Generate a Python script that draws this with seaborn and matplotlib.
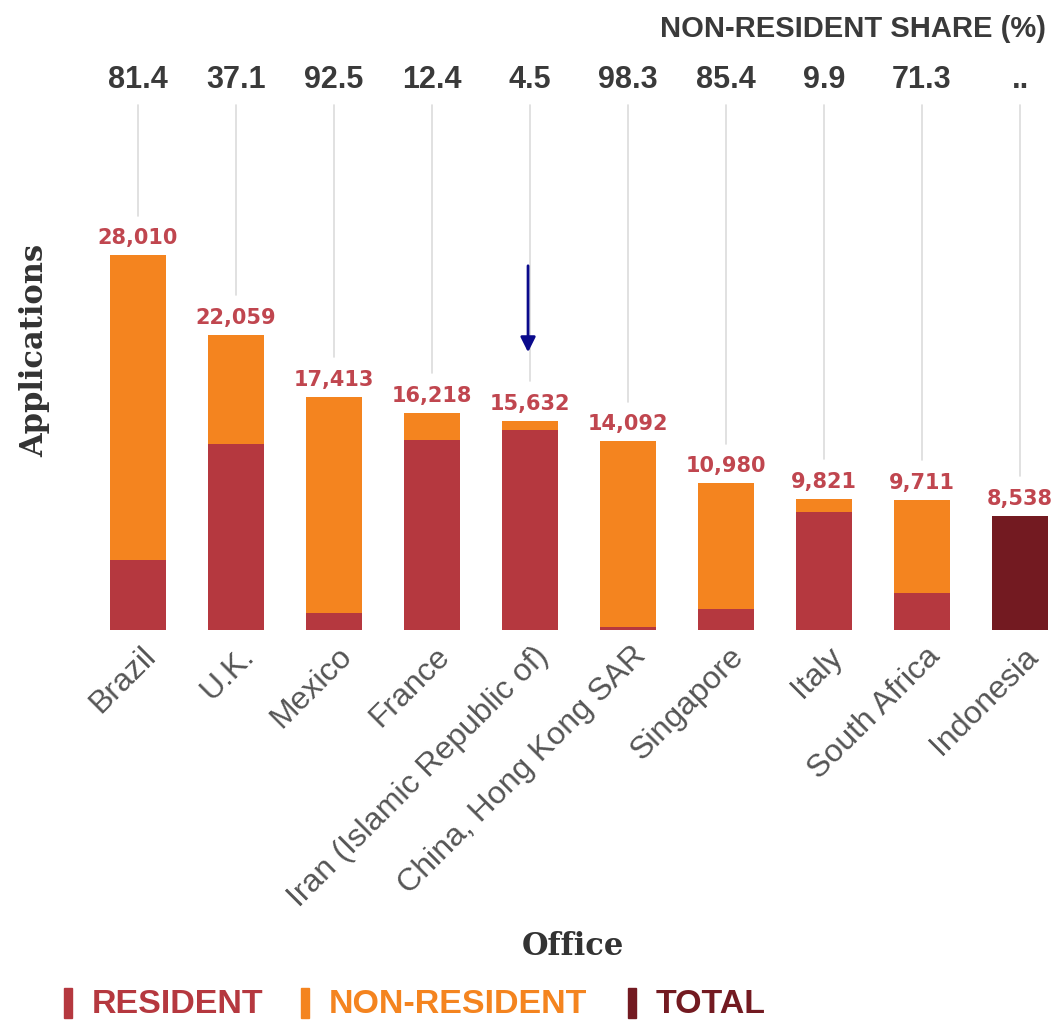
import matplotlib
matplotlib.use('Agg')
import matplotlib.pyplot as plt
import matplotlib.transforms as mtransforms
import seaborn as sns
import pandas as pd
import numpy as np

offices = ['Brazil', 'U.K.', 'Mexico', 'France', 'Iran (Islamic Republic of)',
           'China, Hong Kong SAR', 'Singapore', 'Italy', 'South Africa', 'Indonesia']
totals = [28010, 22059, 17413, 16218, 15632, 14092, 10980, 9821, 9711, 8538]
nonres_share = [81.4, 37.1, 92.5, 12.4, 4.5, 98.3, 85.4, 9.9, 71.3, None]
share_labels = ['81.4', '37.1', '92.5', '12.4', '4.5', '98.3', '85.4', '9.9', '71.3', '..']

RES = '#b5383f'
NONRES = '#f4841f'
TOTAL = '#731a21'
LABEL_RED = '#c0464f'
GREY_TXT = '#3a3a3a'
SANS = ['Liberation Sans', 'DejaVu Sans']

df = pd.DataFrame({'office': offices, 'total': totals, 'share': nonres_share})
# resident part = total minus non-resident share; Indonesia only has the total
df['resident'] = [t * (1 - s / 100) if s is not None else 0 for t, s in zip(totals, nonres_share)]
top_colors = [NONRES if s is not None else TOTAL for s in nonres_share]

sns.set_style('white')
plt.rcParams['font.family'] = SANS

fig = plt.figure(figsize=(10.58, 10.21), dpi=100)
W, H = 1058, 1021
px_per_unit = 375 / 28010
ax_top_px, ax_bot_px = 20, 630
ax = fig.add_axes([89 / W, (H - ax_bot_px) / H, (W - 89) / W, (ax_bot_px - ax_top_px) / H])

sns.barplot(data=df, x='office', y='total', hue='office', palette=top_colors,
            legend=False, width=0.57, saturation=1, linewidth=0, ax=ax)
sns.barplot(data=df, x='office', y='resident', color=RES, width=0.57,
            saturation=1, linewidth=0, ax=ax)

ax.set_xlim(-0.5, -0.5 + (W - 89) / 98)
ax.set_ylim(0, (ax_bot_px - ax_top_px) / px_per_unit)
sns.despine(ax=ax, left=True, bottom=True)
ax.set_yticks([])
ax.set_ylabel('')
ax.set_xlabel('')

def px2y(p):
    return (ax_bot_px - p) / px_per_unit

# value labels and grey leader lines up to the share numbers
for i, t in enumerate(totals):
    ax.text(i, t + 520, f'{t:,}', ha='center', va='bottom', color=LABEL_RED,
            fontsize=15, fontweight='bold', family=['DejaVu Sans'])
    ax.plot([i, i], [px2y(105), t + 2950], color='#dcdcdc', lw=1.2, zorder=0)
    ax.text(i, px2y(80), share_labels[i], ha='center', va='center', color=GREY_TXT,
            fontsize=22, fontweight='bold')

fig.text(1046 / W, 1 - 29 / H, 'NON-RESIDENT SHARE (%)', ha='right', va='center',
         color=GREY_TXT, fontsize=21, fontweight='bold')

# arrow pointing at Iran
ax.annotate('', xy=(3.98, px2y(355)), xytext=(3.98, px2y(263)),
            arrowprops=dict(arrowstyle='-|>,head_width=0.45,head_length=0.9',
                            color='#0a0a8c', lw=2))

ax.tick_params(axis='x', length=0, pad=8)
offset = mtransforms.ScaledTranslation(0.03, 0, fig.dpi_scale_trans)
for lab in ax.get_xticklabels():
    lab.set_rotation(45)
    lab.set_ha('right')
    lab.set_va('top')
    lab.set_rotation_mode('anchor')
    lab.set_color('#555555')
    lab.set_fontsize(23)
    lab.set_family(SANS)
    lab.set_transform(lab.get_transform() + offset)

fig.text(35 / W, 1 - 350 / H, 'Applications', rotation=90, ha='center', va='center',
         fontsize=22, fontweight='bold', family='DejaVu Serif', color='#333333')
fig.text(573 / W, 1 - 946 / H, 'Office', ha='center', va='center',
         fontsize=22, fontweight='bold', family='DejaVu Serif', color='#333333')

# legend row
legend_items = [('RESIDENT', RES, 64), ('NON-RESIDENT', NONRES, 301), ('TOTAL', TOTAL, 628)]
for name, col, xp in legend_items:
    fig.patches.append(plt.Rectangle((xp / W, 1 - 1018 / H), 8 / W, 30 / H,
                                     transform=fig.transFigure, color=col))
    fig.text((xp + 28) / W, 1 - 1004 / H, name, ha='left', va='center', color=col,
             fontsize=24.5, fontweight='bold', family=SANS)

fig.savefig('out.png', dpi=100)
